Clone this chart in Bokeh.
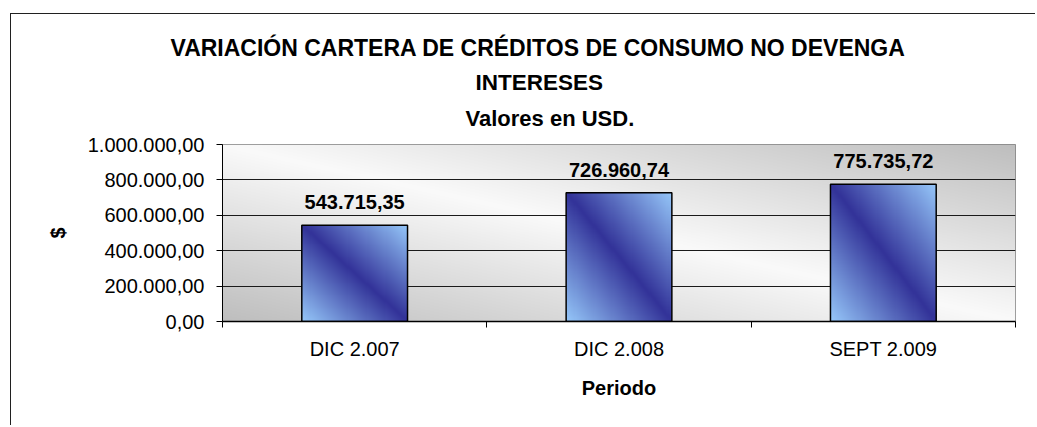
import numpy as np
from bokeh.plotting import figure
from bokeh.models import FixedTicker, Title, Range1d
from bokeh.core.properties import value
from bokeh.embed import file_html
from bokeh.resources import INLINE

# ---- data ----
periods = ["DIC 2.007", "DIC 2.008", "SEPT 2.009"]
amounts = [543715.35, 726960.74, 775735.72]
y_ticks = [0, 200000, 400000, 600000, 800000, 1000000]
title_lines = ["VARIACIÓN CARTERA DE CRÉDITOS DE CONSUMO NO DEVENGA",
               "INTERESES",
               "Valores en USD."]
x_title = "Periodo"
y_title = "$"


def fmt(v):
    s = f"{v:,.2f}"
    return s.replace(",", "#").replace(".", ",").replace("#", ".")


FONT = "Liberation Sans"
n = len(periods)
centers = [i + 0.5 for i in range(n)]
bounds = [float(i) for i in range(n + 1)]
bar_w = 0.40
y_max = y_ticks[-1]

p = figure(width=1025, height=412, output_backend="svg", toolbar_location=None,
           x_range=Range1d(0, n), y_range=Range1d(0, y_max),
           min_border_left=211, min_border_right=21, min_border_top=130,
           min_border_bottom=105)
p.margin = (13, 0, 0, 10)
p.styles = {"border-left": "1px solid #202020", "border-top": "1px solid #202020"}
p.background_fill_color = "white"
p.border_fill_color = "white"
p.outline_line_color = "#808080"
p.outline_line_width = 1

# ---- plot area diagonal gradient (white along the diagonal, gray at corners) ----
H, W = 180, 800
u = np.linspace(0, 1, W)[None, :]
v = np.linspace(0, 1, H)[:, None]
t = np.abs(u + v - 1.0)
g = (250 - (250 - 190) * t).astype(np.uint8)
bg = np.empty((H, W), dtype=np.uint32)
bv = bg.view(dtype=np.uint8).reshape((H, W, 4))
bv[..., 0] = g
bv[..., 1] = g
bv[..., 2] = g
bv[..., 3] = 255
p.image_rgba(image=[bg], x=0, y=0, dw=n, dh=y_max, level="image")

# ---- bar gradient images ----
dark = np.array([51, 51, 153], dtype=float)
light = np.array([150, 200, 250], dtype=float)
bh, bw_px = 200, 100
bu = np.linspace(0, 1, bw_px)[None, :]
bvv = np.linspace(0, 1, bh)[:, None]
bt = np.abs(bu + bvv - 1.0)
bar_img = np.empty((bh, bw_px), dtype=np.uint32)
bb = bar_img.view(dtype=np.uint8).reshape((bh, bw_px, 4))
for k in range(3):
    bb[..., k] = (dark[k] + (light[k] - dark[k]) * bt).astype(np.uint8)
bb[..., 3] = 255
p.image_rgba(image=[bar_img] * n, x=[c - bar_w / 2 for c in centers], y=[0] * n,
             dw=[bar_w] * n, dh=amounts)
p.vbar(x=centers, top=amounts, width=bar_w, fill_alpha=0, line_color="black",
       line_width=1.5)

# ---- value labels ----
p.text(x=centers, y=amounts, text=[fmt(a) for a in amounts], y_offset=-23,
       text_align="center", text_baseline="alphabetic",
       text_font=value(FONT), text_font_style="bold", text_font_size="20px",
       text_color="black")

# ---- axes ----
p.xgrid.visible = False
p.ygrid.ticker = FixedTicker(ticks=y_ticks[1:-1])
p.ygrid.grid_line_color = "#1a1a1a"
p.ygrid.grid_line_width = 1

xa = p.xaxis[0]
xa.ticker = FixedTicker(ticks=centers, minor_ticks=bounds)
xa.major_label_overrides = {c: lab for c, lab in zip(centers, periods)}
xa.major_tick_out = 0
xa.major_tick_in = 0
xa.minor_tick_out = 6
xa.minor_tick_in = 0
xa.minor_tick_line_color = "black"
xa.axis_line_color = "black"
xa.axis_line_width = 1.5
xa.major_label_standoff = 10
xa.major_label_text_font = FONT
xa.major_label_text_font_size = "20px"
xa.major_label_text_color = "black"
xa.axis_label = x_title
xa.axis_label_text_font = FONT
xa.axis_label_text_font_style = "bold"
xa.axis_label_text_font_size = "20px"
xa.axis_label_text_color = "black"
xa.axis_label_standoff = 14

ya = p.yaxis[0]
ya.ticker = FixedTicker(ticks=y_ticks, minor_ticks=[])
ya.major_label_overrides = {t_: fmt(t_) for t_ in y_ticks}
ya.major_tick_out = 6
ya.major_tick_in = 0
ya.major_tick_line_color = "black"
ya.minor_tick_line_color = None
ya.axis_line_color = "black"
ya.major_label_standoff = 12
ya.major_label_text_font = FONT
ya.major_label_text_font_size = "20px"
ya.major_label_text_color = "black"
ya.axis_label = y_title
ya.axis_label_text_font = FONT
ya.axis_label_text_font_style = "bold"
ya.axis_label_text_font_size = "20px"
ya.axis_label_text_color = "black"
ya.axis_label_standoff = 16

# ---- title (three stacked lines, first added is closest to the plot) ----
title_style = [(title_lines[2], 243, "22px", 23, "top"),
               (title_lines[1], 253, "22.5px", 0, "bottom"),
               (title_lines[0], -52, "23px", 13, "bottom")]
p.title.visible = False
for txt, off, fs, so, va in title_style:
    p.add_layout(Title(text=txt, align="left", offset=off, text_font=FONT,
                       text_font_style="bold", text_font_size=fs,
                       text_color="black", standoff=so, vertical_align=va),
                 "above")

open("out.html", "w").write(file_html(p, INLINE))
